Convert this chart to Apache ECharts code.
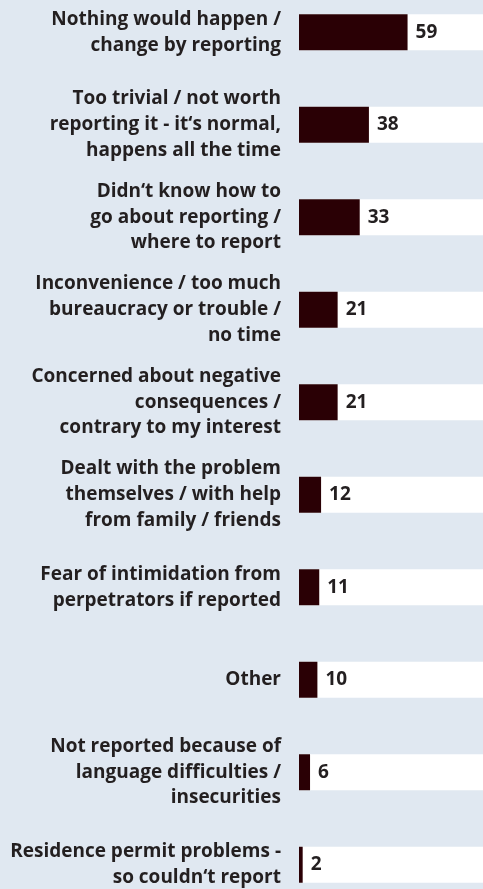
<!DOCTYPE html>
<html>
<head>
<meta charset="utf-8">
<script src="https://cdn.jsdelivr.net/npm/echarts@6/dist/echarts.min.js"></script>
<style>
html,body{margin:0;padding:0;background:#e0e8f1;overflow:hidden;width:483px;height:889px;}
#c{position:absolute;left:0;top:-14px;width:483px;height:925px;}
</style>
</head>
<body>
<div id="c"></div>
<script>
const categories = [
  "Nothing would happen /\nchange by reporting",
  "Too trivial / not worth\nreporting it - it‘s normal,\nhappens all the time",
  "Didn‘t know how to\ngo about reporting /\nwhere to report",
  "Inconvenience / too much\nbureaucracy or trouble /\nno time",
  "Concerned about negative\nconsequences /\ncontrary to my interest",
  "Dealt with the problem\nthemselves / with help\nfrom family / friends",
  "Fear of intimidation from\nperpetrators if reported",
  "Other",
  "Not reported because of\nlanguage difficulties /\ninsecurities",
  "Residence permit problems -\nso couldn‘t report"
];
const values = [59, 38, 33, 21, 21, 12, 11, 10, 6, 2];

const chart = echarts.init(document.getElementById('c'));
chart.setOption({
  backgroundColor: '#e0e8f1',
  animation: false,
  grid: { left: 299, right: -5, top: 0, bottom: 0, containLabel: false },
  xAxis: {
    type: 'value', min: 0, max: 100, show: false
  },
  yAxis: {
    type: 'category', data: categories, inverse: true,
    axisLine: { show: false }, axisTick: { show: false }, splitLine: { show: false },
    axisLabel: {
      margin: 18, align: 'right',
      fontFamily: 'Open Sans', fontWeight: 'bold', fontSize: 19, lineHeight: 25.7,
      color: '#231f20'
    }
  },
  series: [{
    type: 'bar',
    data: values,
    barWidth: 36,
    showBackground: true,
    backgroundStyle: { color: '#ffffff' },
    itemStyle: { color: '#2a0005' },
    label: {
      show: true, position: 'right', distance: 8,
      fontFamily: 'Open Sans', fontWeight: 'bold', fontSize: 19,
      color: '#231f20'
    }
  }]
});
</script>
</body>
</html>
